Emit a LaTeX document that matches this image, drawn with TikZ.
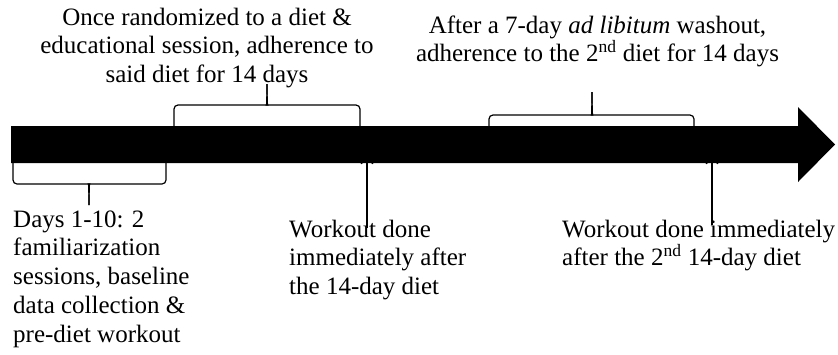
\documentclass[tikz,border=0pt]{standalone}
\usepackage{fontspec}
\setmainfont{Liberation Serif}
\usetikzlibrary{arrows.meta}
\begin{document}
\begin{tikzpicture}[x=1pt,y=-1pt,
  lbl/.style={inner sep=0pt, font=\fontsize{25}{28.8}\selectfont},
  bracepath/.style={line width=1.2pt, rounded corners=4pt},
  tick/.style={line width=1.2pt, -{Straight Barb[length=5pt,width=12pt]}}]
\useasboundingbox (0,0) rectangle (838,354);
% timeline arrow
\fill[black] (11,126) -- (798,126) -- (798,107) -- (835,144.5) -- (798,182) -- (798,163) -- (11,163) -- cycle;
% braces
\newcommand{\wbrace}[6]{%
  \draw[bracepath] (#1,#3) -- (#1,#4) -- (#5-4,#4) [sharp corners] .. controls (#5-1,#4) and (#5,#4) .. (#5,#6);
  \draw[bracepath] (#2,#3) -- (#2,#4) -- (#5+4,#4) [sharp corners] .. controls (#5+1,#4) and (#5,#4) .. (#5,#6);}
\wbrace{174}{360}{126}{105}{267}{84}
\wbrace{489}{694}{126}{115}{592}{92}
\wbrace{13}{166}{163}{184}{89}{205}
% labels (anchor base = baseline of the last line)
\node[lbl, anchor=base, align=center] (t1) at (207,82.6)
  {Once randomized to a diet \&\\educational session, adherence to\\said diet for 14 days};
\node[lbl, anchor=base, align=center] (t2) at (597.5,61.8)
  {After a 7-day \textit{ad libitum} washout,\\adherence to the 2\textsuperscript{nd} diet for 14 days};
\node[lbl, anchor=base west, align=left] (b1) at (13,342.2)
  {Days 1-10: 2\\familiarization\\sessions, baseline\\data collection \&\\pre-diet workout};
\node[lbl, anchor=base west, align=left] (w1) at (289,294.6)
  {Workout done\\immediately after\\the 14-day diet};
\node[lbl, anchor=base west, align=left] (w2) at (562,265.8)
  {Workout done immediately\\after the 2\textsuperscript{nd} 14-day diet};
% workout markers
\coordinate (s1) at (367,228);
\coordinate (e1) at (367,158);
\coordinate (s2) at (712,225);
\coordinate (e2) at (712,158);
\draw[tick] (s1) -- (e1);
\draw[tick] (s2) -- (e2);
\end{tikzpicture}
\end{document}
